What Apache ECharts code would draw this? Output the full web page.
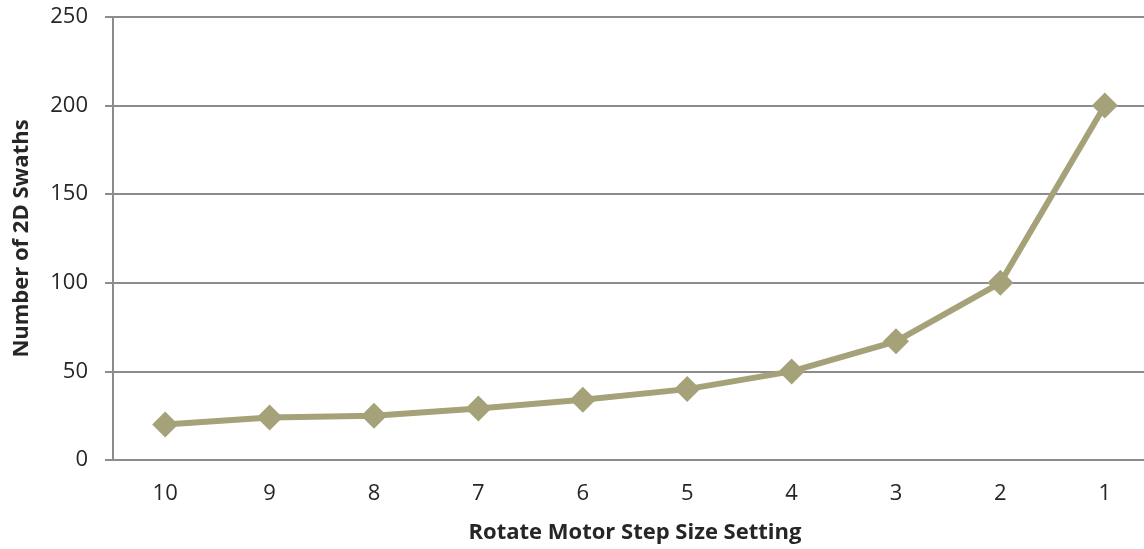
<!DOCTYPE html>
<html>
<head>
<meta charset="utf-8">
<script src="https://cdn.jsdelivr.net/npm/echarts@6/dist/echarts.min.js"></script>
<style>
  html, body { margin: 0; padding: 0; background: #fff; overflow: hidden; }
  /* the plot area continues slightly past the right edge of the window */
  #chart { width: 1157px; height: 549px; }
</style>
</head>
<body>
<div id="chart"></div>
<script>
// Step size settings, largest to smallest
const stepSettings = ['10', '9', '8', '7', '6', '5', '4', '3', '2', '1'];
// Number of 2D swaths collected at each setting
const swathCounts = [20, 24, 25, 29, 34, 40, 50, 67, 100, 200];
const yTicks = { min: 0, max: 250, interval: 50 };

const textColor = '#262626';
const gridColor = '#8c8c8c';
const lineColor = '#a5a279';
const font = '"Open Sans", "DejaVu Sans", sans-serif';

const chart = echarts.init(document.getElementById('chart'));
chart.setOption({
  animation: false,
  grid: { left: 113, top: 17, right: 0, bottom: 89, containLabel: false },
  xAxis: {
    type: 'category',
    data: stepSettings,
    boundaryGap: true,
    name: 'Rotate Motor Step Size Setting',
    nameLocation: 'middle',
    nameGap: 62,
    nameTextStyle: { fontFamily: font, fontSize: 22, fontWeight: 'bold', color: textColor },
    axisLine: { show: true, lineStyle: { color: gridColor, width: 2 } },
    axisTick: { show: false },
    axisLabel: { fontFamily: font, fontSize: 22, color: textColor, margin: 23 },
    splitLine: { show: false }
  },
  yAxis: {
    type: 'value',
    min: yTicks.min,
    max: yTicks.max,
    interval: yTicks.interval,
    name: 'Number of 2D Swaths',
    nameLocation: 'middle',
    nameGap: 80,
    nameRotate: 90,
    nameTextStyle: { fontFamily: font, fontSize: 22, fontWeight: 'bold', color: textColor },
    axisLine: { show: true, lineStyle: { color: gridColor, width: 2 } },
    axisTick: { show: true, length: 8, lineStyle: { color: gridColor, width: 2 } },
    axisLabel: { fontFamily: font, fontSize: 22, color: textColor, margin: 25 },
    splitLine: { show: true, lineStyle: { color: gridColor, width: 2 } }
  },
  series: [{
    type: 'line',
    data: swathCounts,
    symbol: 'diamond',
    symbolSize: 26,
    lineStyle: { color: lineColor, width: 6 },
    itemStyle: { color: lineColor },
    z: 3
  }]
});
</script>
</body>
</html>
